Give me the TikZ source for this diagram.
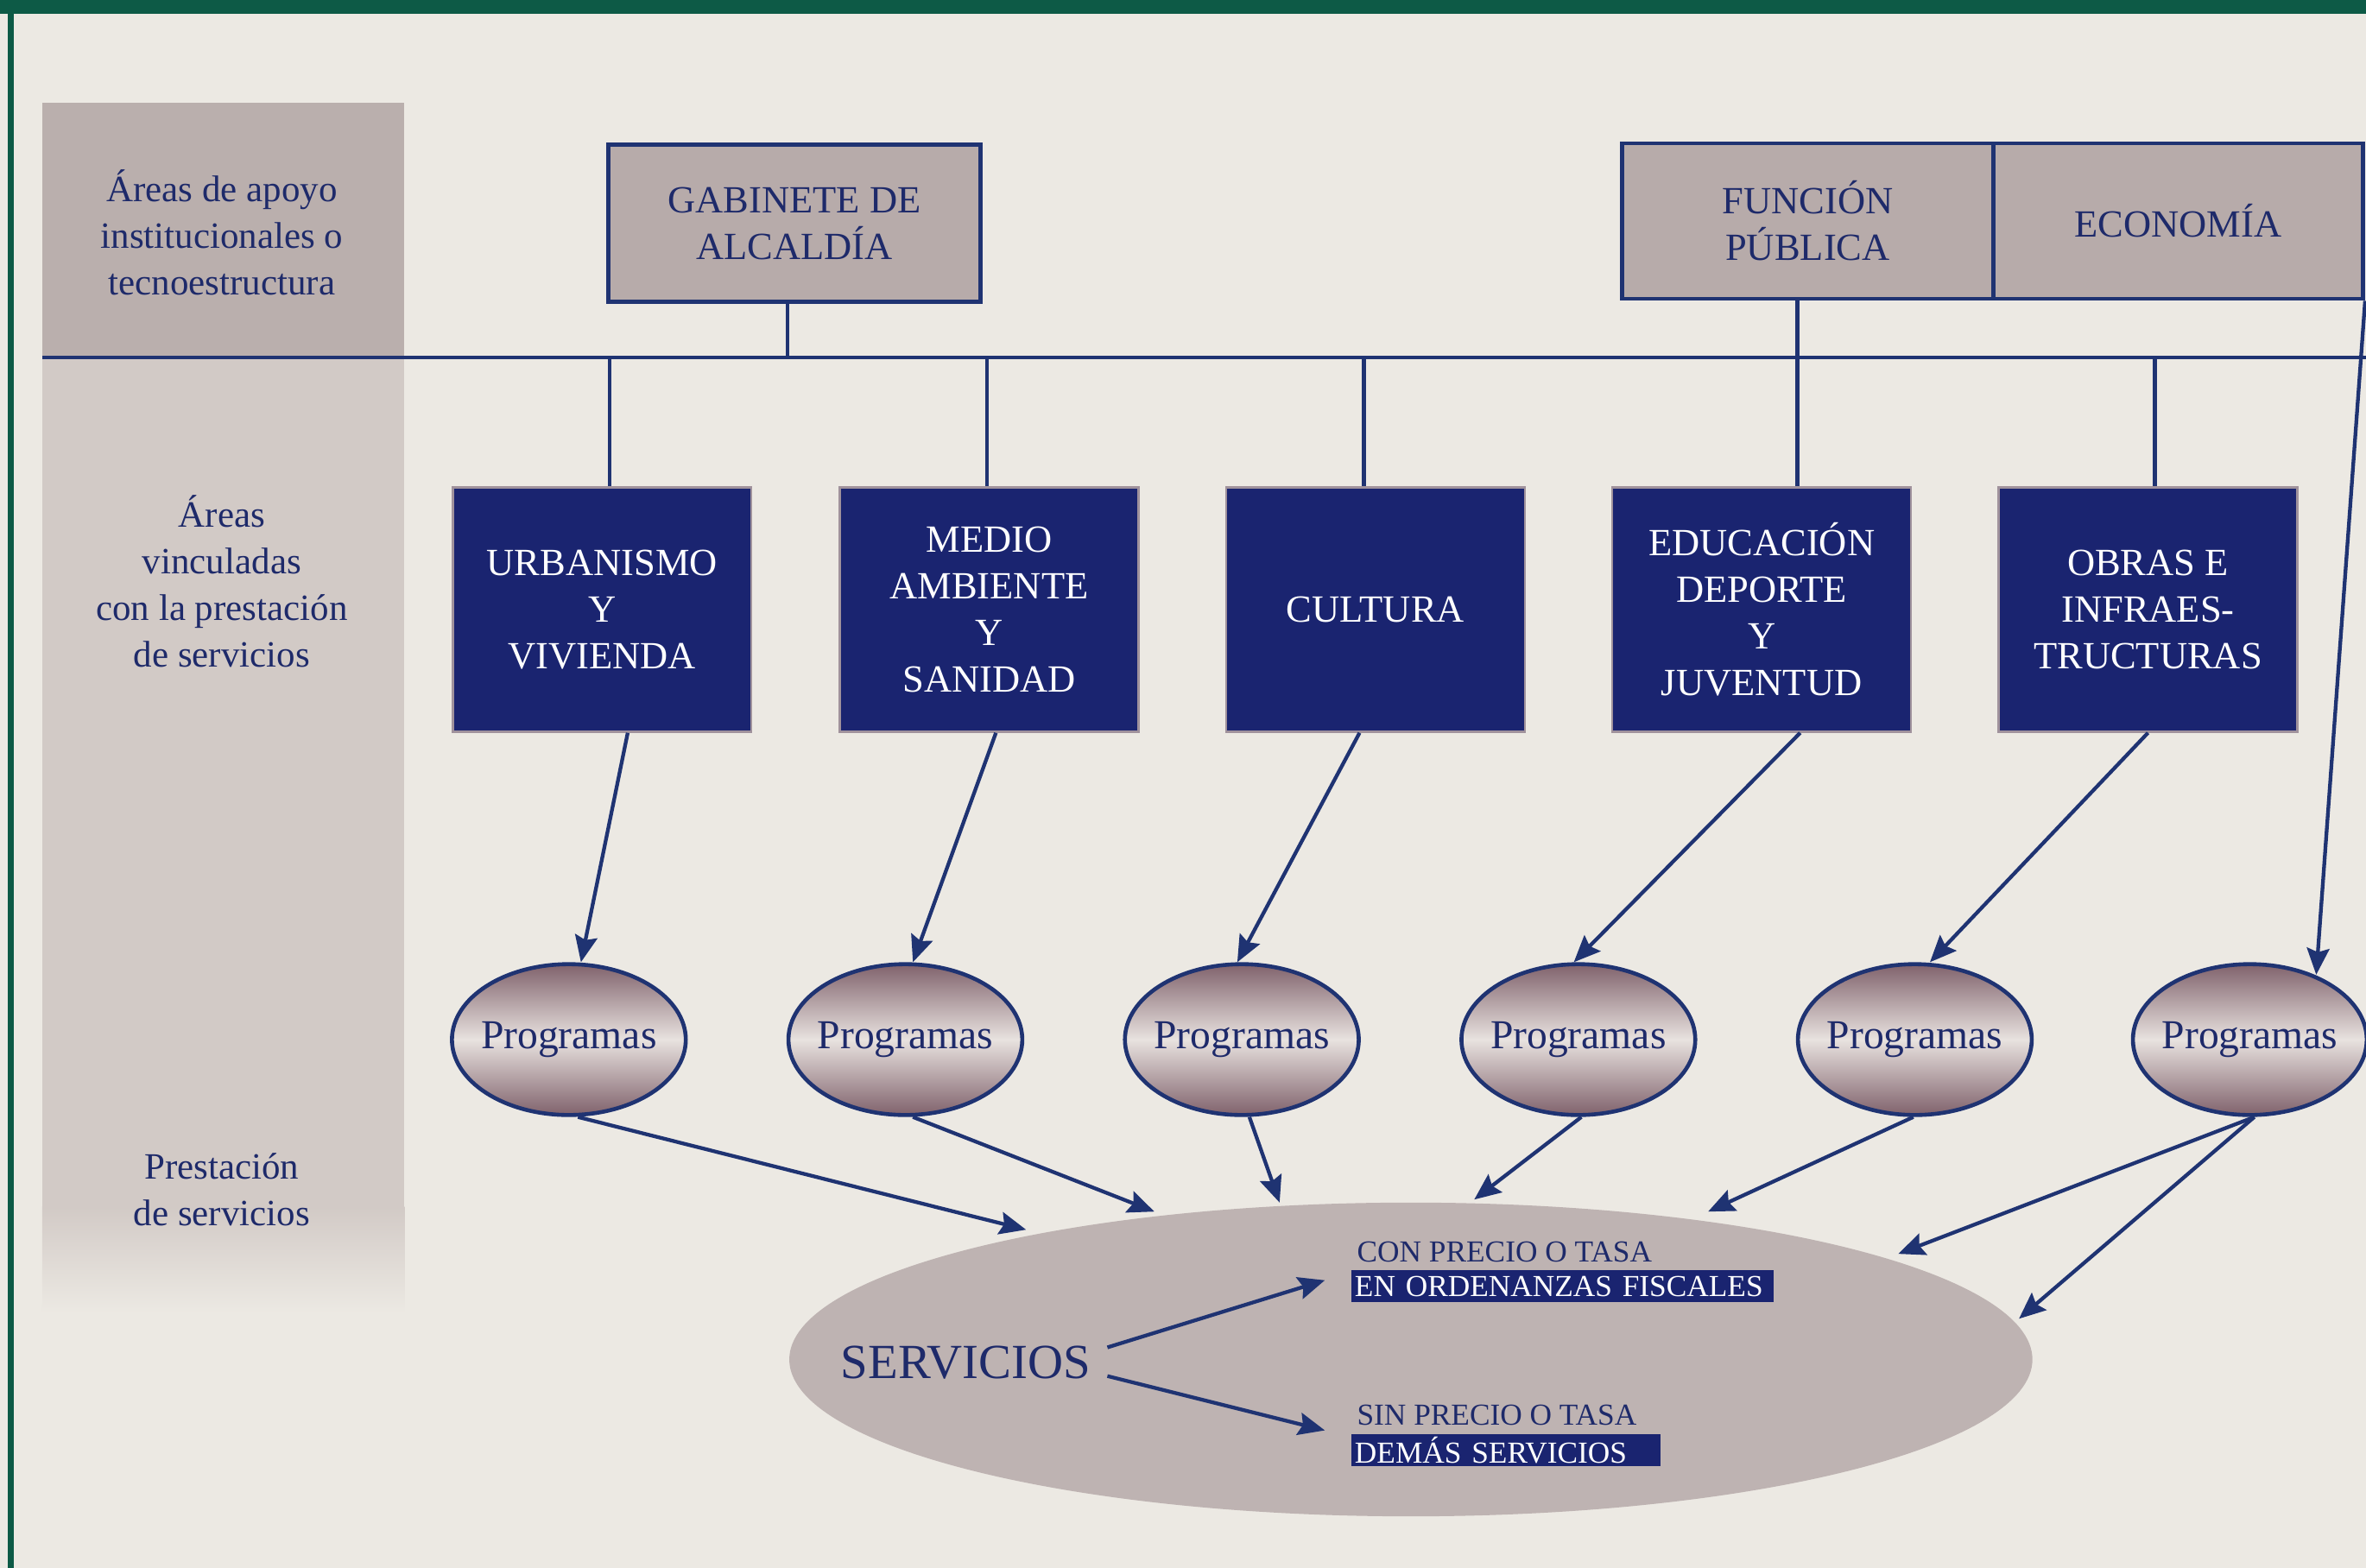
\documentclass[tikz,border=0pt]{standalone}
\usepackage{fontspec}
\setmainfont{Liberation Serif}
\usetikzlibrary{shapes.geometric,arrows.meta,calc}
\definecolor{bg}{HTML}{ECE9E3}
\definecolor{frame}{HTML}{0D5A46}
\definecolor{navy}{HTML}{1E2A6A}
\definecolor{linec}{HTML}{1F3372}
\definecolor{boxblue}{HTML}{1A2470}
\definecolor{boxedge}{HTML}{A0929C}
\definecolor{mauve}{HTML}{B7ABAA}
\definecolor{colA}{HTML}{BAAFAD}
\definecolor{colB}{HTML}{D2CAC6}
\definecolor{srv}{HTML}{BEB3B2}
\definecolor{pdark}{HTML}{80626C}
\definecolor{plight}{HTML}{E8E2DF}
\begin{document}
\begin{tikzpicture}[x=0.02cm,y=-0.02cm,
  lbl/.style={text=navy,align=center,font=\fontsize{14}{17.6}\selectfont},
  graybox/.style={draw=linec,line width=1.6pt,fill=mauve,text=navy,align=center,
    font=\fontsize{14.5}{17.6}\selectfont},
  bluebox/.style={draw=boxedge,line width=0.8pt,fill=boxblue,text=white,align=center,
    minimum width=3.96cm,minimum height=3.24cm,font=\fontsize{14.5}{17.6}\selectfont},
  prog/.style={ellipse,draw=linec,line width=1.5pt,top color=pdark,bottom color=pdark,
    middle color=plight,minimum width=3.1cm,minimum height=2.0cm,inner sep=0pt,
    text=navy,font=\fontsize{15.5}{18}\selectfont},
  small/.style={text=navy,inner sep=0pt,font=\fontsize{11.5}{13}\selectfont},
  tag/.style={fill=boxblue,text=white,inner xsep=0.05cm,inner ysep=0pt,minimum height=0.42cm,
    align=left,font=\fontsize{11.5}{13}\selectfont},
  ln/.style={draw=linec,line width=1.5pt},
  arr/.style={draw=linec,line width=1.4pt,-{Stealth[length=10pt,width=8.5pt,inset=1.5pt]}}]
\useasboundingbox (0,0) rectangle (1568,1039);
\fill[bg] (0,0) rectangle (1568,1039);
\fill[frame] (0,0) rectangle (1568,9);
\fill[frame] (5,0) rectangle (9,1039);
\fill[colA] (28,68) rectangle (268,237);
\fill[colB] (28,237) rectangle (268,800);
\shade[top color=colB,bottom color=bg] (28,800) rectangle (268,870);
% left labels
\node[lbl] (t1) at (147,154) {Áreas de apoyo\\institucionales o\\tecnoestructura};
\node[lbl] (t2) at (147,385.5) {Áreas\\vinculadas\\con la prestación\\de servicios};
\node[lbl] (t3) at (147,788.5) {Prestación\\de servicios};
% top boxes
\node[graybox,minimum width=4.94cm,minimum height=2.08cm] (gab) at (526.5,148) {GABINETE DE\\ALCALDÍA};
\node[graybox,minimum width=4.92cm,minimum height=2.06cm] (fun) at (1198,146.5) {FUNCIÓN\\PÚBLICA};
\node[graybox,minimum width=4.9cm,minimum height=2.06cm] (eco) at (1443.5,146.5) {ECONOMÍA};
% blue boxes
\node[bluebox] (u) at (399,404) {URBANISMO\\Y\\VIVIENDA};
\node[bluebox] (m) at (655.5,404) {MEDIO\\AMBIENTE\\Y\\SANIDAD};
\node[bluebox] (c) at (911.5,404) {CULTURA};
\node[bluebox] (e) at (1167.5,404) {EDUCACIÓN\\DEPORTE\\Y\\JUVENTUD};
\node[bluebox] (o) at (1423.5,404) {OBRAS E\\INFRAES-\\TRUCTURAS};
% programas
\foreach \i/\x in {1/377,2/600,3/823,4/1046,5/1269,6/1491}
  \node[prog] (p\i) at (\x,689) {\makebox[0pt]{Programas}};
% servicios
\node[ellipse,fill=srv,minimum width=16.48cm,minimum height=4.16cm,inner sep=0pt] (S) at (935,901) {};
\node[text=navy,font=\fontsize{18.5}{22}\selectfont] (sv) at (640,903) {SERVICIOS};
\node[small,anchor=west] (con) at (899,830) {CON PRECIO O TASA};
\node[tag,text width=5.5cm,anchor=west] (ord) at (895,852.5) {EN ORDENANZAS FISCALES};
\node[small,anchor=west] (sin) at (899,938) {SIN PRECIO O TASA};
\node[tag,text width=4.0cm,anchor=west] (dem) at (895,961) {DEMÁS SERVICIOS};
% structure lines
\coordinate (hlL) at (28,237);
\coordinate (hlR) at (1568,237);
\draw[ln] (hlL) -- (hlR);
\coordinate (g0) at (522,200);
\draw[ln] (g0) -- (g0 |- hlL);
\coordinate (du) at (404,237);
\coordinate (dm) at (654,237);
\coordinate (dc) at (904,237);
\coordinate (dob) at (1428,237);
\coordinate (de) at (1191,198);
\draw[ln] (du) -- (du |- u.north);
\draw[ln] (dm) -- (dm |- m.north);
\draw[ln] (dc) -- (dc |- c.north);
\draw[ln] (dob) -- (dob |- o.north);
\draw[ln] (de) -- (de |- e.north);
% arrows to programas
\draw[arr] ($(u.south)+(17,0)$) -- ($(p1.north)+(8,0)$);
\draw[arr] ($(m.south)+(4.5,0)$) -- ($(p2.north)+(5,0)$);
\draw[arr] ($(c.south)+(-10.5,0)$) -- ($(p3.north)+(-3,0)$);
\draw[arr] ($(e.south)+(25.5,0)$) -- ($(p4.north)+(-3,0)$);
\draw[arr] (o.south) -- ($(p5.north)+(10,0)$);
\draw[arr] (eco.south east) -- ($(p6.center)+(44,-43)$);
% arrows to servicios
\draw[arr] ($(p1.south)+(6,0)$) -- ($(S.center)+(-255,-86)$);
\draw[arr] ($(p2.south)+(5,0)$) -- ($(S.center)+(-170,-98)$);
\draw[arr] ($(p3.south)+(5,0)$) -- ($(S.center)+(-87,-104)$);
\draw[arr] ($(p4.south)+(2,0)$) -- ($(S.center)+(42,-106)$);
\draw[arr] ($(p5.south)+(-1,0)$) -- ($(S.center)+(197,-98)$);
\draw[arr] ($(p6.south)+(3,0)$) -- ($(S.center)+(323,-70)$);
\draw[arr] ($(p6.south)+(3,0)$) -- ($(S.center)+(403,-27)$);
% servicios split
\draw[arr] ($(sv.east)+(5,-10)$) -- ($(ord.west)+(-17,-4)$);
\draw[arr] ($(sv.east)+(5,9)$) -- ($(dem.west)+(-17,-13)$);
\end{tikzpicture}
\end{document}
